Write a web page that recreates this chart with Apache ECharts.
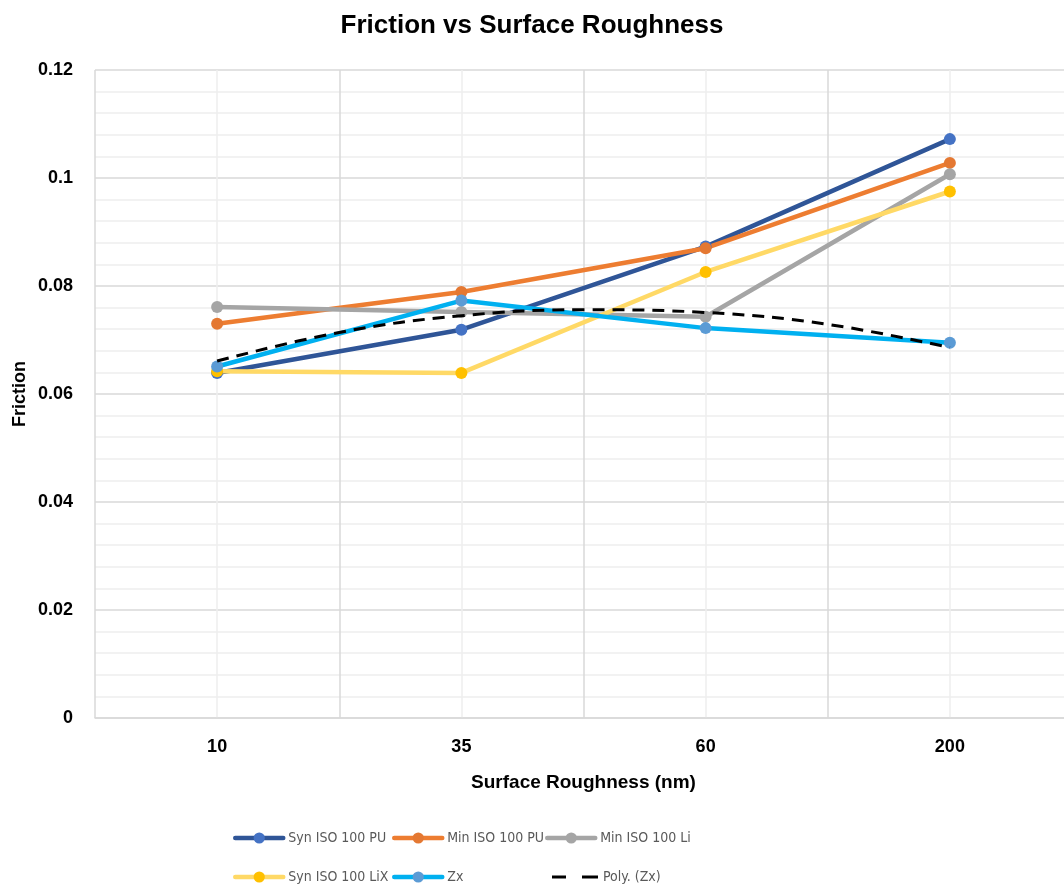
<!DOCTYPE html>
<html>
<head>
<meta charset="utf-8">
<title>Friction vs Surface Roughness</title>
<script src="https://cdn.jsdelivr.net/npm/echarts@6/dist/echarts.min.js"></script>
<style>
  html, body { margin: 0; padding: 0; background: #fff; }
  #chart { width: 1064px; height: 887px; }
</style>
</head>
<body>
<div id="chart"></div>
<script>
// Surface roughness categories (nm)
const roughness = ['10', '35', '60', '200'];

// Friction coefficient per lubricant
const synIsoPU  = [0.0639, 0.0719, 0.0873, 0.1072];
const minIsoPU  = [0.0730, 0.0789, 0.0870, 0.1028];
const minIsoLi  = [0.0761, 0.0752, 0.0743, 0.1007];
const synIsoLiX = [0.0642, 0.0639, 0.0826, 0.0975];
const zx        = [0.0651, 0.0773, 0.0722, 0.0695];

// Polynomial trend of Zx, sampled at half-category steps (x = category index + 0.5)
const polyZxX = [0.5, 1.0, 1.5, 2.0, 2.5, 3.0, 3.5];
const polyZxY = [0.0661, 0.0714, 0.0745, 0.0756, 0.0751, 0.0729, 0.0686];

// Y axis tick labels
const yTicks = [0, 0.02, 0.04, 0.06, 0.08, 0.1, 0.12];

const FONT = '"Liberation Sans", Arial, sans-serif';
const NARROW = '"DejaVu Sans Condensed", "Liberation Sans", sans-serif';

function lineSeries(name, data, lineColor, markerColor) {
  return {
    name: name,
    type: 'line',
    xAxisIndex: 0,
    data: data,
    symbol: 'circle',
    symbolSize: 12,
    showAllSymbol: true,
    lineStyle: { color: lineColor, width: 4.5, cap: 'round', join: 'round' },
    itemStyle: { color: markerColor, borderWidth: 0 },
    emphasis: { disabled: true },
    animation: false,
    z: 3
  };
}

const series = [
  lineSeries('Syn ISO 100 PU', synIsoPU, '#2F5597', '#4472C4'),
  lineSeries('Min ISO 100 PU', minIsoPU, '#ED7D31', '#E47832'),
  lineSeries('Min ISO 100 Li', minIsoLi, '#A5A5A5', '#A5A5A5'),
  lineSeries('Syn ISO 100 LiX', synIsoLiX, '#FFD966', '#FFC000'),
  lineSeries('Zx', zx, '#00B0F0', '#5B9BD5'),
  {
    name: 'Poly. (Zx)',
    type: 'line',
    xAxisIndex: 1,
    data: polyZxX.map((x, i) => [x, polyZxY[i]]),
    smooth: 0.4,
    symbol: 'none',
    lineStyle: { color: '#000000', width: 3, type: [12, 8] },
    itemStyle: { color: '#000000' },
    emphasis: { disabled: true },
    animation: false,
    z: 4
  }
];

// One legend block per entry so the two rows line up in columns
const legendText = { color: '#595959', fontSize: 14, fontFamily: NARROW };
function legendItem(name, left, centerY) {
  return {
    left: left,
    top: centerY - 8,
    padding: 0,
    itemWidth: 48,
    itemHeight: 14,
    textStyle: legendText,
    lineStyle: { width: 4.5 },
    selectedMode: false,
    data: [name]
  };
}

const row1 = 839, row2 = 878;
const legends = [
  legendItem('Syn ISO 100 PU', 233, row1),
  legendItem('Min ISO 100 PU', 392, row1),
  legendItem('Min ISO 100 Li', 545, row1),
  legendItem('Syn ISO 100 LiX', 233, row2),
  legendItem('Zx', 392, row2),
  {
    left: 552,
    top: row2 - 8,
    padding: 0,
    itemWidth: 46,
    itemHeight: 3,
    textStyle: legendText,
    selectedMode: false,
    data: [{ name: 'Poly. (Zx)', icon: 'path://M0,0H14V3H0Z M30,0H46V3H30Z' }]
  }
];

const option = {
  backgroundColor: '#ffffff',
  animation: false,
  title: {
    text: 'Friction vs Surface Roughness',
    left: 'center',
    top: 8,
    textStyle: { fontFamily: FONT, fontWeight: 'bold', fontSize: 26, color: '#000000' }
  },
  legend: legends,
  grid: { left: 95, right: -8, top: 70, bottom: 169, containLabel: false, outerBoundsMode: 'none' },
  xAxis: [
    {
      type: 'category',
      data: roughness,
      boundaryGap: true,
      name: 'Surface Roughness (nm)',
      nameLocation: 'middle',
      nameGap: 55,
      nameMoveOverlap: false,
      nameTextStyle: { fontFamily: FONT, fontWeight: 'bold', fontSize: 19, color: '#000000' },
      axisLine: { show: true, lineStyle: { color: '#D9D9D9', width: 1.5 } },
      axisTick: { show: false },
      axisLabel: { margin: 20, fontFamily: FONT, fontWeight: 'bold', fontSize: 18, color: '#000000' },
      splitLine: { show: false }
    },
    {
      // Value axis spanning the same width: carries the vertical gridlines and the trend curve
      type: 'value',
      min: 0,
      max: 4,
      interval: 1,
      show: true,
      position: 'bottom',
      axisLine: { show: false },
      axisTick: { show: false },
      axisLabel: { show: false },
      splitLine: { show: true, lineStyle: { color: '#D9D9D9', width: 1.5 } },
      minorTick: { show: false, splitNumber: 2 },
      minorSplitLine: { show: true, lineStyle: { color: '#EEEEEE', width: 1.5 } }
    }
  ],
  yAxis: {
    type: 'value',
    min: 0,
    max: 0.12,
    interval: 0.02,
    name: 'Friction',
    nameLocation: 'middle',
    nameRotate: 90,
    nameGap: 66,
    nameMoveOverlap: false,
    nameTextStyle: { fontFamily: FONT, fontWeight: 'bold', fontSize: 18, color: '#000000' },
    axisLine: { show: false },
    axisTick: { show: false },
    axisLabel: {
      margin: 22,
      fontFamily: FONT, fontWeight: 'bold', fontSize: 18, color: '#000000',
      formatter: function (v) {
        const hit = yTicks.find(t => Math.abs(t - v) < 1e-9);
        return hit === undefined ? '' : String(hit);
      }
    },
    splitLine: { show: true, lineStyle: { color: '#D9D9D9', width: 1.5 } },
    minorTick: { show: false, splitNumber: 5 },
    minorSplitLine: { show: true, lineStyle: { color: '#EEEEEE', width: 1.5 } }
  },
  series: series
};

const chart = echarts.init(document.getElementById('chart'), null, { renderer: 'canvas' });
chart.setOption(option);
</script>
</body>
</html>
